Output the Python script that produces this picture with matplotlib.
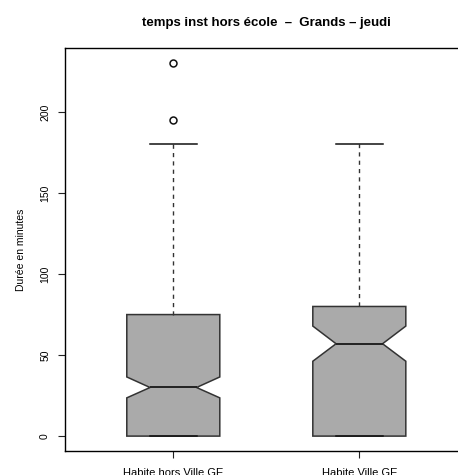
import matplotlib
matplotlib.use('Agg')
import matplotlib.pyplot as plt

plt.rcParams['font.family'] = ['Liberation Sans', 'DejaVu Sans']

groups = ['Habite hors Ville GE', 'Habite Ville GE']
q1 = [0, 0]
med = [30, 57]
q3 = [75, 80]
whis_lo = [0, 0]
whis_hi = [180, 180]
notch_lo = [23.6, 46.2]
notch_hi = [36.5, 67.9]
outliers = [[195, 230], []]

stats = []
for i in range(len(groups)):
    stats.append({'label': groups[i], 'q1': q1[i], 'med': med[i], 'q3': q3[i],
                  'whislo': whis_lo[i], 'whishi': whis_hi[i],
                  'cilo': notch_lo[i], 'cihi': notch_hi[i],
                  'fliers': outliers[i]})

fig = plt.figure(figsize=(4.58, 4.75), dpi=100)
ax = fig.add_axes([0.1428, 0.0505, 0.8773, 0.8474])

edge = '#333333'
ax.bxp(stats, positions=[1, 2], widths=0.5, shownotches=True, patch_artist=True,
       boxprops=dict(facecolor='#aaaaaa', edgecolor=edge, linewidth=1.1),
       medianprops=dict(color='#222222', linewidth=1.4),
       whiskerprops=dict(color=edge, linestyle=(0, (3, 3)), linewidth=1.0),
       capprops=dict(color='#111111', linewidth=1.1),
       flierprops=dict(marker='o', markersize=5, markerfacecolor='white',
                       markeredgecolor='#111111', markeredgewidth=1.1))

ax.set_xlim(0.42, 2.58)
ax.set_ylim(-9.2, 239.2)
ax.set_yticks([0, 50, 100, 150, 200])
ax.set_yticklabels(['0', '50', '100', '150', '200'], rotation=90, va='center')
ax.tick_params(axis='both', length=5, width=0.8, labelsize=7.5, color='#222222')
ax.tick_params(axis='y', pad=6)
ax.tick_params(axis='x', pad=7, labelsize=8)
for s in ax.spines.values():
    s.set_linewidth(1.0)

ax.set_ylabel('Durée en minutes', fontsize=7.5, labelpad=10)
ax.set_title('temps inst hors école  –  Grands – jeudi', fontsize=9.5,
             fontweight='bold', pad=16)

fig.savefig('out.png', dpi=100)
